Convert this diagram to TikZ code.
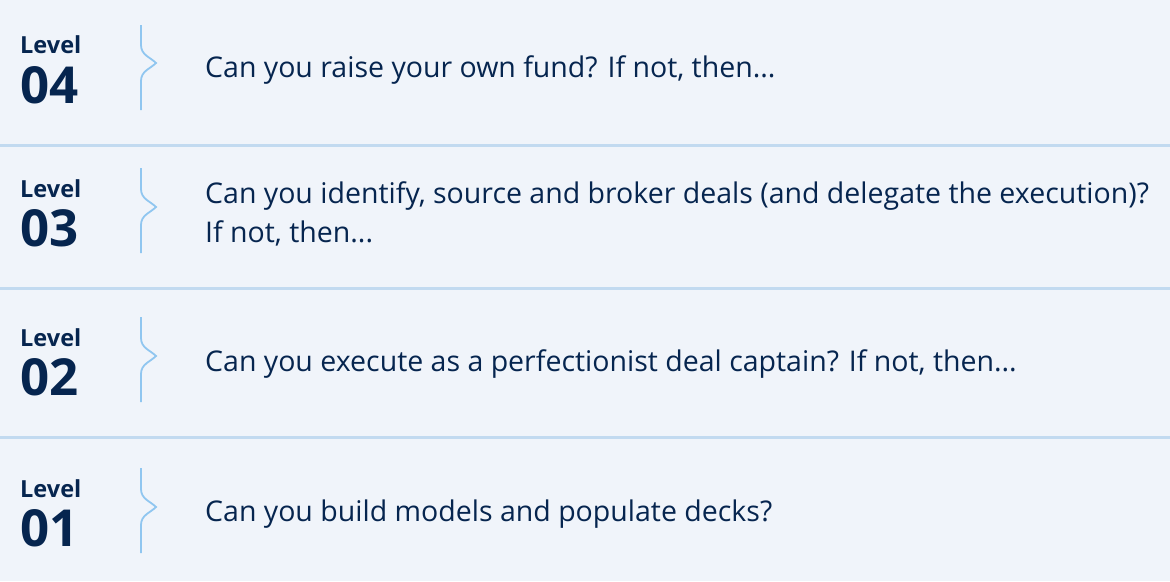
\documentclass[tikz,border=0pt]{standalone}
\usepackage{fontspec}
\setmainfont{Open Sans}
\usetikzlibrary{positioning}

\definecolor{navy}{HTML}{06254F}
\definecolor{panelbg}{HTML}{F0F4FA}
\definecolor{rulecol}{HTML}{C2DAF0}
\definecolor{bracecol}{HTML}{90C6F0}

\tikzset{
  levelword/.style={anchor=base west, inner sep=0pt, text=navy, font=\fontsize{23.5}{28}\selectfont\bfseries},
  levelnum/.style={anchor=base west, inner sep=0pt, text=navy, font=\fontsize{51}{54}\selectfont\bfseries},
  question/.style={anchor=base west, inner sep=0pt, text=navy, align=left, font=\fontsize{28.5}{39}\selectfont},
  sepline/.style={rulecol, line width=3pt},
  bracket/.style={bracecol, line width=1.8pt}
}

\begin{document}
\begin{tikzpicture}[x=1pt, y=-1pt]
\fill[panelbg] (0,0) rectangle (1170,581);
\useasboundingbox (0,0) rectangle (1170,581);

\draw[sepline] (0,145) -- (1170,145);
\draw[sepline] (0,288) -- (1170,288);
\draw[sepline] (0,437) -- (1170,437);

\node[levelword] (w4) at (20,53) {Level};
\node[levelnum] (n4) at (20,103) {04};
\draw[bracket] (141,25) -- (141,45) .. controls (141,55) and (150,57) .. (156,63) .. controls (150,69) and (141,71) .. (141,81) -- (141,110);
\node[question] (q4) at (205,77) {Can you raise your own fund? If not, then...};

\node[levelword] (w3) at (20,197) {Level};
\node[levelnum] (n3) at (20,246) {03};
\draw[bracket] (141,168) -- (141,189) .. controls (141,199) and (150,201) .. (156,207) .. controls (150,213) and (141,215) .. (141,225) -- (141,253);
\node[question] (q3) at (205,242) {Can you identify, source and broker deals (and delegate the execution)?\\If not, then...};

\node[levelword] (w2) at (20,346) {Level};
\node[levelnum] (n2) at (20,395) {02};
\draw[bracket] (141,317) -- (141,338) .. controls (141,348) and (150,350) .. (156,356) .. controls (150,362) and (141,364) .. (141,374) -- (141,402);
\node[question] (q2) at (205,371) {Can you execute as a perfectionist deal captain? If not, then...};

\node[levelword] (w1) at (20,497) {Level};
\node[levelnum] (n1) at (20,546) {01};
\draw[bracket] (141,468) -- (141,489) .. controls (141,499) and (150,501) .. (156,507) .. controls (150,513) and (141,515) .. (141,525) -- (141,553);
\node[question] (q1) at (205,521) {Can you build models and populate decks?};
\end{tikzpicture}
\end{document}
